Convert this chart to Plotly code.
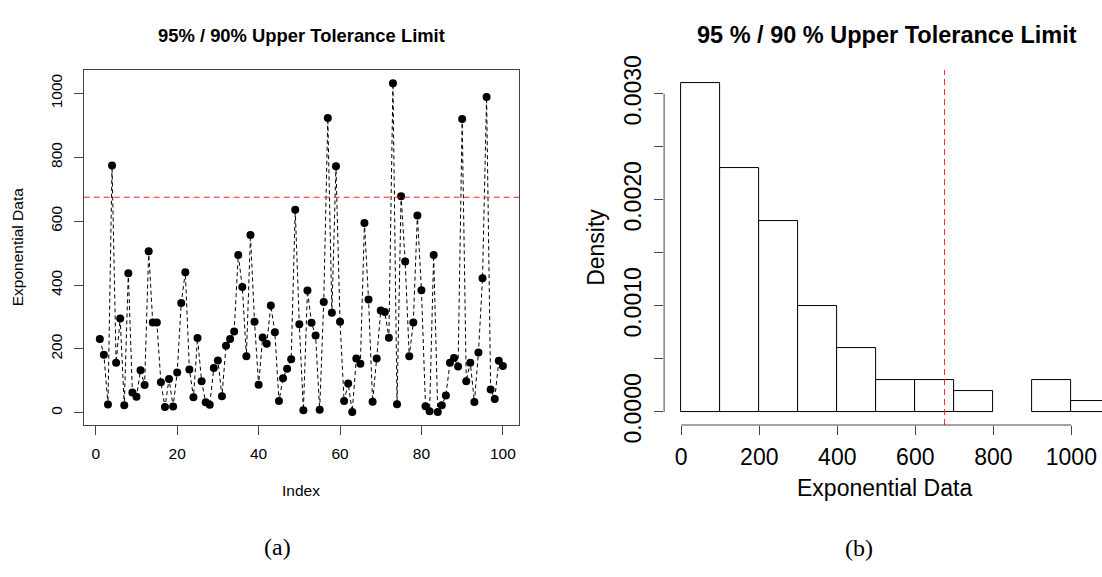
import plotly.graph_objects as go

# ---------------- data ----------------
index = list(range(1, 101))
exp_data = [231, 182, 26, 774, 157, 295, 24, 437, 64, 50,
            133, 87, 506, 283, 283, 96, 18, 106, 20, 126,
            344, 440, 136, 49, 234, 99, 33, 25, 140, 164,
            52, 210, 231, 255, 494, 394, 177, 557, 285, 88,
            236, 216, 336, 252, 37, 108, 138, 168, 636, 277,
            8, 383, 282, 242, 10, 347, 923, 313, 772, 285,
            37, 92, 3, 170, 154, 594, 355, 35, 170, 320,
            316, 235, 1032, 27, 678, 474, 177, 283, 618, 384,
            21, 5, 494, 3, 24, 54, 157, 172, 145, 920,
            99, 157, 34, 189, 421, 989, 73, 43, 163, 147]
utl = 675  # 95% / 90% upper tolerance limit

left_x_ticks = [0, 20, 40, 60, 80, 100]
left_y_ticks = [0, 200, 400, 600, 800, 1000]
hist_x_ticks = [0, 200, 400, 600, 800, 1000]
hist_y_ticks = [0.0, 0.0005, 0.0010, 0.0015, 0.0020, 0.0025, 0.0030]
hist_y_labels = ["0.0000", "", "0.0010", "", "0.0020", "", "0.0030"]
bin_start, bin_end, bin_size = 0, 1100, 100

title_a = "95% / 90% Upper Tolerance Limit"
title_b = "95 % / 90 % Upper Tolerance Limit"

# ---------------- layout helpers ----------------
W, H = 1102, 577
def px(xp):
    return xp / W
def py(yp):
    return 1 - yp / H

SANS = "Liberation Sans, Arial, Helvetica, sans-serif"
SERIF = "Liberation Serif, DejaVu Serif, serif"
AX = "#444444"

# R-like 4% range extension
def ext(lo, hi):
    d = (hi - lo) * 0.04
    return lo - d, hi + d

lx0, lx1 = ext(min(index), max(index))
ly0, ly1 = ext(min(exp_data), max(exp_data))

counts = [0] * ((bin_end - bin_start) // bin_size)
for v in exp_data:
    counts[int((v - bin_start) // bin_size)] += 1
max_dens = max(counts) / (len(exp_data) * bin_size)
hx0, hx1 = ext(bin_start, bin_end)
hy0, hy1 = ext(0, max_dens)

# right panel is cropped at the figure edge: keep the scale, cut the range
r_left_px, r_right_px = 664.1, 1127.5
hx1_vis = hx0 + (hx1 - hx0) * (W - r_left_px) / (r_right_px - r_left_px)

fig = go.Figure()

fig.add_trace(go.Scatter(
    x=index, y=exp_data, mode="lines+markers",
    line=dict(color="black", width=1, dash="4px,3px"),
    marker=dict(color="black", size=8),
    xaxis="x", yaxis="y", showlegend=False, hoverinfo="x+y"))

fig.add_trace(go.Histogram(
    x=exp_data, histnorm="probability density",
    xbins=dict(start=bin_start, end=bin_end, size=bin_size),
    marker=dict(color="white", line=dict(color="black", width=1)),
    xaxis="x2", yaxis="y2", showlegend=False))

dom_y = [py(435.7), py(58.5)]

fig.update_layout(
    width=W, height=H,
    margin=dict(l=0, r=0, t=0, b=0, pad=0),
    paper_bgcolor="white", plot_bgcolor="white",
    bargap=0,
    font=dict(family=SANS, color="black"),
    xaxis=dict(domain=[px(83.7), px(519.0)], range=[lx0, lx1],
               tickvals=left_x_ticks, ticks="outside", ticklen=9,
               tickcolor=AX, tickwidth=1, showgrid=False, zeroline=False,
               showline=True, mirror=True, linecolor=AX, linewidth=1,
               tickfont=dict(size=15.5, family=SANS), ticklabelstandoff=5,
               anchor="y"),
    yaxis=dict(domain=dom_y, range=[ly0, ly1],
               tickvals=left_y_ticks, ticks="outside", ticklen=9,
               tickcolor=AX, tickwidth=1, showgrid=False, zeroline=False,
               showline=True, mirror=True, linecolor=AX, linewidth=1,
               tickangle=-90, tickfont=dict(size=15.5, family=SANS),
               ticklabelstandoff=6, anchor="x"),
    xaxis2=dict(domain=[px(r_left_px), 1.0], range=[hx0, hx1_vis],
                tickvals=hist_x_ticks, ticks="outside", ticklen=9,
                tickcolor=AX, tickwidth=1, showgrid=False, zeroline=False,
                showline=False, tickfont=dict(size=23, family=SANS),
                ticklabelstandoff=2, anchor="y2"),
    yaxis2=dict(domain=dom_y, range=[hy0, hy1],
                tickvals=hist_y_ticks, ticktext=hist_y_labels,
                ticks="outside", ticklen=9, tickcolor=AX, tickwidth=1,
                showgrid=False, zeroline=False, showline=False,
                tickangle=-90, tickfont=dict(size=23, family=SANS),
                ticklabelstandoff=4, anchor="x2"),
)

shapes = [
    # tolerance limit lines
    dict(type="line", xref="x domain", yref="y", x0=0, x1=1, y0=utl, y1=utl,
         line=dict(color="#ff2020", width=1, dash="6px,4px"), layer="above"),
    dict(type="line", xref="x2", yref="y2 domain", x0=utl, x1=utl, y0=0, y1=1,
         line=dict(color="#ff2020", width=1, dash="6px,4px"), layer="above"),
    # R-style detached axis lines for histogram
    dict(type="line", xref="x2", yref="y2 domain",
         x0=min(hist_x_ticks), x1=max(hist_x_ticks), y0=0, y1=0,
         line=dict(color=AX, width=1)),
    dict(type="line", xref="x2 domain", yref="y2", x0=0, x1=0,
         y0=min(hist_y_ticks), y1=max(hist_y_ticks),
         line=dict(color=AX, width=1)),
]
fig.update_layout(shapes=shapes)

def ann(text, x, y, size, angle=0, bold=False, family=SANS):
    return dict(text=text, x=px(x), y=py(y), xref="paper", yref="paper",
                showarrow=False, xanchor="center", yanchor="middle",
                textangle=angle,
                font=dict(size=size, family=family, color="black",
                          weight="bold" if bold else "normal"))

fig.update_layout(annotations=[
    ann(title_a, 301.4, 22, 18.4, bold=True),
    ann("Index", 301.4, 505, 15.5),
    ann("Exponential Data", 17.8, 247, 15.5, angle=-90),
    ann(title_b, 887, 20.8, 23.5, bold=True),
    ann("Exponential Data", 884, 503, 23),
    ann("Density", 596.4, 247, 23, angle=-90),
    ann("(a)", 277.5, 565.7, 24, family=SERIF),
    ann("(b)", 858.8, 566.7, 24, family=SERIF),
])

fig.write_html("out.html")
